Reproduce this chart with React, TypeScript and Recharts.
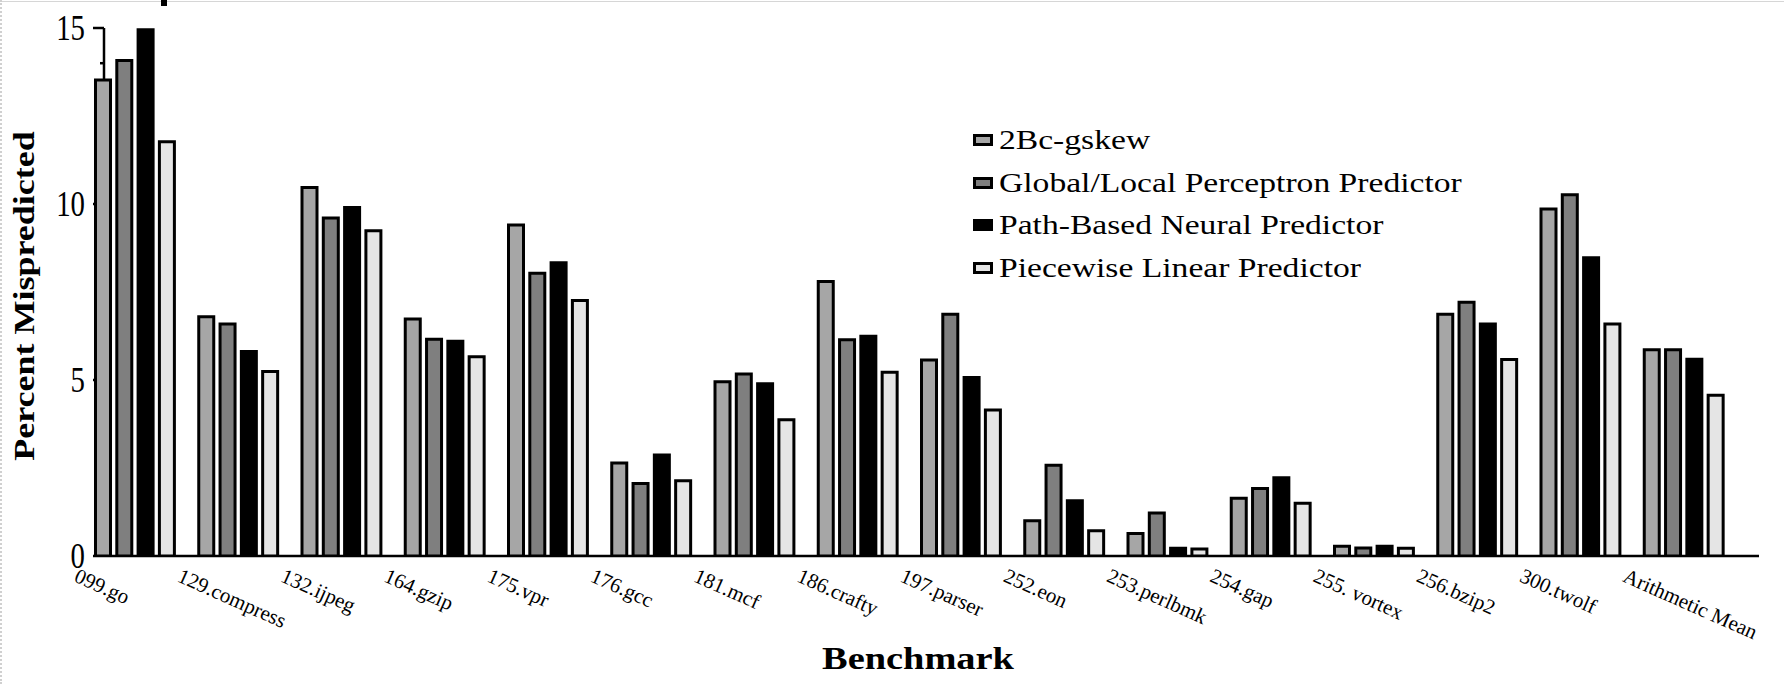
import { Bar, BarChart, Legend, XAxis, YAxis } from "recharts";

const benchmarks = [
  "099.go",
  "129.compress",
  "132.ijpeg",
  "164.gzip",
  "175.vpr",
  "176.gcc",
  "181.mcf",
  "186.crafty",
  "197.parser",
  "252.eon",
  "253.perlbmk",
  "254.gap",
  "255. vortex",
  "256.bzip2",
  "300.twolf",
  "Arithmetic Mean",
];

const gskew = [13.52, 6.8, 10.47, 6.73, 9.4, 2.64, 4.95, 7.8, 5.57, 1.0, 0.64, 1.64, 0.28, 6.87, 9.86, 5.86];
const perceptron = [14.08, 6.59, 9.6, 6.16, 8.03, 2.06, 5.17, 6.14, 6.87, 2.58, 1.22, 1.92, 0.23, 7.21, 10.26, 5.86];
const pathNeural = [14.95, 5.81, 9.9, 6.1, 8.33, 2.87, 4.89, 6.24, 5.07, 1.57, 0.22, 2.22, 0.28, 6.59, 8.47, 5.59];
const piecewise = [11.77, 5.24, 9.24, 5.66, 7.26, 2.14, 3.87, 5.22, 4.15, 0.72, 0.2, 1.5, 0.22, 5.58, 6.59, 4.57];

const seriesNames = [
  "2Bc-gskew",
  "Global/Local Perceptron Predictor",
  "Path-Based Neural Predictor",
  "Piecewise Linear Predictor",
];

const yTicks = [0, 1, 2, 3, 4, 5, 6, 7, 8, 9, 10, 11, 12, 13, 14, 15];

const data = benchmarks.map((name, i) => ({
  name,
  gskew: gskew[i],
  perceptron: perceptron[i],
  path: pathNeural[i],
  piecewise: piecewise[i],
}));

const SERIF = '"Liberation Serif", "Times New Roman", serif';
const W = 1784;
const H = 684;
const xPadding = { left: -20.7, right: 23.7 };
const layer: React.CSSProperties = { position: "absolute", left: 0, top: 0 };

function XTick({ x, y, payload }: any) {
  return (
    <text
      transform={`translate(${x - 62},${y + 25}) rotate(24)`}
      fontSize={21}
      fontFamily={SERIF}
      fill="#000"
    >
      {payload.value}
    </text>
  );
}

function YTick({ x, y, payload }: any) {
  const major = payload.value % 5 === 0;
  return (
    <g>
      <line x1={x - (major ? 11 : 4)} x2={x} y1={y} y2={y} stroke="#000" strokeWidth={2.5} />
      {major && (
        <text
          transform={`translate(${x - 19},${y + 12}) scale(0.8,1)`}
          textAnchor="end"
          fontSize={36}
          fontFamily={SERIF}
          fill="#000"
        >
          {payload.value}
        </text>
      )}
    </g>
  );
}

function LegendContent({ payload }: any) {
  return (
    <div style={{ fontFamily: SERIF, fontSize: 28, color: "#000" }}>
      {(payload || []).map((entry: any) => (
        <div key={entry.value} style={{ display: "flex", alignItems: "center", height: 42.7 }}>
          <span
            style={{
              display: "inline-block",
              width: 20,
              height: 12,
              boxSizing: "border-box",
              border: "3px solid #000",
              background: entry.color,
              marginRight: 6,
            }}
          />
          <span style={{ display: "inline-block", transform: "scaleX(1.2)", transformOrigin: "left center", whiteSpace: "nowrap" }}>
            {entry.value}
          </span>
        </div>
      ))}
    </div>
  );
}

export default function App() {
  return (
    <div style={{ position: "absolute", left: 0, top: 0, width: W, height: H, background: "#fff", overflow: "hidden" }}>
      <div style={{ position: "absolute", left: 0, top: 1, width: W, height: 1, background: "#d6d6d6" }} />
      <div style={{ position: "absolute", left: 0, top: 0, height: H, borderLeft: "2px dotted #d0d0d0" }} />
      <div style={{ position: "absolute", left: 161, top: 0, width: 6, height: 6, background: "#000" }} />

      {/* axes layer, drawn underneath the bars */}
      <div style={layer}>
        <BarChart width={W} height={H} data={data} margin={{ top: 28, right: 25, bottom: 0, left: 0 }}>
          <XAxis
            dataKey="name"
            height={128}
            padding={xPadding}
            axisLine={{ stroke: "#000", strokeWidth: 2.5 }}
            tickLine={false}
            tickSize={0}
            tickMargin={0}
            interval={0}
            tick={<XTick />}
            label={() => (
              <text
                transform="translate(918,669) scale(1.2,1)"
                textAnchor="middle"
                fontSize={32}
                fontWeight="bold"
                fontFamily={SERIF}
                fill="#000"
              >
                Benchmark
              </text>
            )}
          />
          <YAxis
            width={104}
            domain={[0, 15]}
            ticks={yTicks}
            interval={0}
            allowDataOverflow
            axisLine={{ stroke: "#000", strokeWidth: 2.5 }}
            tickLine={false}
            tickSize={0}
            tickMargin={0}
            tick={<YTick />}
            label={() => (
              <text
                transform="translate(34,296) rotate(-90) scale(1.2,1)"
                textAnchor="middle"
                fontSize={30}
                fontWeight="bold"
                fontFamily={SERIF}
                fill="#000"
              >
                Percent Mispredicted
              </text>
            )}
          />
        </BarChart>
      </div>

      {/* bars layer */}
      <div style={layer}>
        <BarChart
          width={W}
          height={H}
          data={data}
          margin={{ top: 28, right: 25, bottom: 128, left: 104 }}
          barCategoryGap={12.2}
          barGap={6.3}
        >
          <XAxis dataKey="name" hide padding={xPadding} />
          <YAxis hide domain={[0, 15]} allowDataOverflow />
          <Legend
            layout="vertical"
            align="center"
            verticalAlign="middle"
            content={<LegendContent />}
            wrapperStyle={{ position: "absolute", left: 973, top: 118.6, width: 520 }}
          />
          <Bar dataKey="gskew" name={seriesNames[0]} fill="#a6a6a6" stroke="#000" strokeWidth={3} isAnimationActive={false} />
          <Bar dataKey="perceptron" name={seriesNames[1]} fill="#7f7f7f" stroke="#000" strokeWidth={3} isAnimationActive={false} />
          <Bar dataKey="path" name={seriesNames[2]} fill="#000" stroke="#000" strokeWidth={3} isAnimationActive={false} />
          <Bar dataKey="piecewise" name={seriesNames[3]} fill="#e5e5e5" stroke="#000" strokeWidth={3} isAnimationActive={false} />
        </BarChart>
      </div>
    </div>
  );
}
